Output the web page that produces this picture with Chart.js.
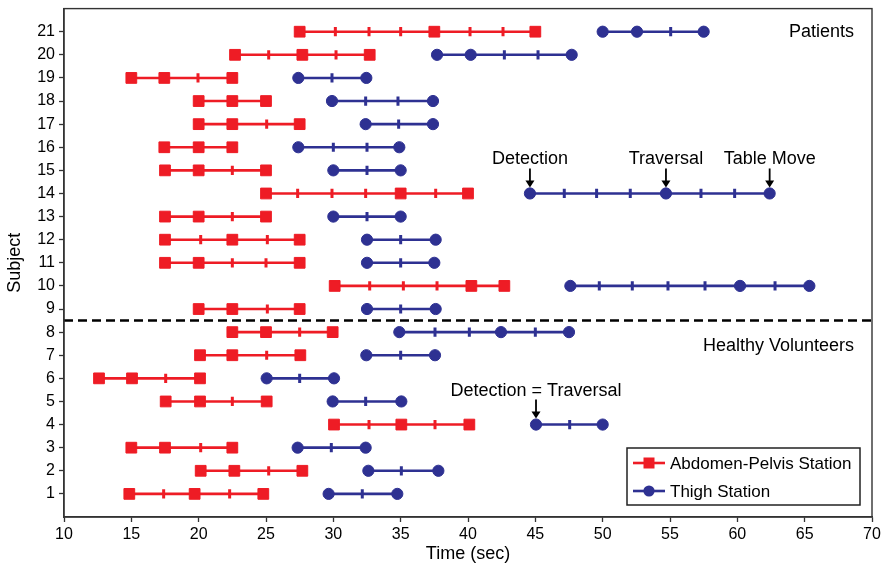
<!DOCTYPE html>
<html>
<head>
<meta charset="utf-8">
<title>Station timing per subject</title>
<script src="https://cdn.jsdelivr.net/npm/chart.js@4/dist/chart.umd.min.js"></script>
<style>
  html, body { margin: 0; padding: 0; background: #fff; }
  #wrap { width: 883px; height: 565px; }
</style>
</head>
<body>
<div id="wrap"><canvas id="chart" width="883" height="565"></canvas></div>
<script>
// --- Data (times in seconds), index 0 = subject 1 ---
const SUBJECTS = [1, 2, 3, 4, 5, 6, 7, 8, 9, 10, 11, 12, 13, 14, 15, 16, 17, 18, 19, 20, 21];
const DIVIDER_Y = 8.5; // patients above, healthy volunteers below
const X_MIN = 10, X_MAX = 70, X_STEP = 5;

// Abdomen-pelvis station: key frames (squares) and the frames between them (ticks)
const ABDOMEN_KEY = [
    [14.85, 19.7, 24.8], [20.15, 22.65, 27.7], [15.0, 17.5, 22.5], [30.05, 35.05, 40.1],
    [17.55, 20.1, 25.05], [12.6, 15.05, 20.1], [20.1, 22.5, 27.55], [22.5, 25.0, 29.95],
    [20.0, 22.5, 27.5], [30.1, 40.25, 42.7], [17.5, 20.0, 27.5], [17.5, 22.5, 27.5],
    [17.5, 20.0, 25.0], [25.0, 35.0, 40.0], [17.5, 20.0, 25.0], [17.45, 20.0, 22.5],
    [20.0, 22.5, 27.5], [20.0, 22.5, 25.0], [15.0, 17.45, 22.5], [22.7, 27.7, 32.7],
    [27.5, 37.5, 45.0]
];
const ABDOMEN_FRAMES = [
    [17.4, 22.3], [25.2], [20.15], [32.65, 37.55],
    [22.5], [17.55], [25.05], [27.5],
    [25.1], [32.7, 35.2, 37.7], [22.5, 25.0], [20.15, 25.1],
    [22.5], [27.35, 29.9, 32.4, 37.6], [22.5], [],
    [25.05], [], [19.95], [25.2, 30.2],
    [30.15, 32.65, 35.0, 40.15, 42.6]
];

// Thigh station: key frames (circles) and the frames between them (ticks)
const THIGH_KEY = [
    [29.65, 34.75], [32.6, 37.8], [27.35, 32.4], [45.05, 50.0],
    [29.95, 35.05], [25.05, 30.05], [32.45, 37.55], [34.9, 42.45, 47.5],
    [32.5, 37.6], [47.6, 60.2, 65.35], [32.5, 37.5], [32.5, 37.6],
    [30.0, 35.0], [44.6, 54.7, 62.4], [30.0, 35.0], [27.4, 34.9],
    [32.4, 37.4], [29.9, 37.4], [27.4, 32.45], [37.7, 40.2, 47.7],
    [50.0, 52.55, 57.5]
];
const THIGH_FRAMES = [
    [32.15], [35.05], [29.85], [47.55],
    [32.4], [27.5], [35.0], [37.55, 40.1, 45.0],
    [35.0], [49.75, 52.2, 54.85, 57.6, 62.8], [35.0], [35.0],
    [32.5], [47.15, 49.55, 52.05, 57.3, 59.8], [32.5], [30.0, 32.5],
    [34.85], [32.4, 34.8], [29.9], [42.7, 45.2],
    [55.05]
];

const SERIES = [
    { label: 'Abdomen-Pelvis Station', color: '#ee1c25', marker: 'rect', radius: 7.6, key: ABDOMEN_KEY, frames: ABDOMEN_FRAMES },
    { label: 'Thigh Station', color: '#2e3192', marker: 'circle', radius: 5.6, key: THIGH_KEY, frames: THIGH_FRAMES }
];

// arrows point at thigh key frames
const NOTES = [
    { text: 'Detection', subject: 14, time: THIGH_KEY[13][0] },
    { text: 'Traversal', subject: 14, time: THIGH_KEY[13][1] },
    { text: 'Table Move', subject: 14, time: THIGH_KEY[13][2] },
    { text: 'Detection = Traversal', subject: 4, time: THIGH_KEY[3][0] }
];
const GROUP_LABELS = [
    { text: 'Patients', y: 21 },
    { text: 'Healthy Volunteers', y: 7.4 }
];

const FONT = '"Liberation Sans", Arial, Helvetica, sans-serif';

// --- build one dataset per subject and station ---
const datasets = [];
SERIES.forEach(s => {
    SUBJECTS.forEach((subj, i) => {
        const pts = s.key[i].map(t => ({ x: t, y: subj, key: true }))
            .concat(s.frames[i].map(t => ({ x: t, y: subj, key: false })))
            .sort((a, b) => a.x - b.x);
        datasets.push({
            label: s.label,
            data: pts,
            showLine: true,
            borderColor: s.color,
            backgroundColor: s.color,
            borderWidth: 2.6,
            pointStyle: c => c.raw && c.raw.key ? s.marker : 'line',
            pointRotation: c => c.raw && c.raw.key ? 0 : 90,
            pointRadius: c => c.raw && c.raw.key ? s.radius : 4.6,
            pointBorderWidth: c => c.raw && c.raw.key ? 1 : 3,
            pointBorderColor: s.color,
            pointBackgroundColor: s.color
        });
    });
});
datasets.push({
    label: 'divider',
    data: [{ x: X_MIN, y: DIVIDER_Y }, { x: X_MAX, y: DIVIDER_Y }],
    showLine: true,
    borderColor: '#000',
    borderWidth: 2.6,
    borderDash: [9, 5],
    pointRadius: 0
});

// --- frame, annotations and legend drawn on top ---
const extras = {
    id: 'extras',
    afterDatasetsDraw(chart) {
        const { ctx, chartArea: a, scales: { x, y } } = chart;
        ctx.save();
        ctx.strokeStyle = '#333';
        ctx.lineWidth = 1.4;
        ctx.strokeRect(a.left, a.top, a.right - a.left, a.bottom - a.top);

        ctx.fillStyle = '#000';
        ctx.font = '18px ' + FONT;
        ctx.textBaseline = 'middle';
        ctx.textAlign = 'right';
        GROUP_LABELS.forEach(g => ctx.fillText(g.text, a.right - 18, y.getPixelForValue(g.y)));

        ctx.textAlign = 'center';
        NOTES.forEach(n => {
            const px = x.getPixelForValue(n.time);
            const py = y.getPixelForValue(n.subject);
            ctx.fillText(n.text, px, py - 34);
            ctx.strokeStyle = '#000';
            ctx.lineWidth = 1.8;
            ctx.beginPath();
            ctx.moveTo(px, py - 25);
            ctx.lineTo(px, py - 12);
            ctx.stroke();
            ctx.beginPath();
            ctx.moveTo(px - 4.5, py - 13);
            ctx.lineTo(px + 4.5, py - 13);
            ctx.lineTo(px, py - 6);
            ctx.closePath();
            ctx.fill();
        });

        // legend box
        const lx = 627, ly = 448, lw = 233, lh = 57;
        ctx.fillStyle = '#fff';
        ctx.fillRect(lx, ly, lw, lh);
        ctx.strokeStyle = '#222';
        ctx.lineWidth = 1.5;
        ctx.strokeRect(lx, ly, lw, lh);
        ctx.font = '17px ' + FONT;
        ctx.textAlign = 'left';
        SERIES.forEach((s, i) => {
            const cy = ly + 15 + i * 28;
            ctx.strokeStyle = s.color;
            ctx.fillStyle = s.color;
            ctx.lineWidth = 2.6;
            ctx.beginPath();
            ctx.moveTo(lx + 6, cy);
            ctx.lineTo(lx + 38, cy);
            ctx.stroke();
            if (s.marker === 'rect') {
                ctx.fillRect(lx + 22 - 5.5, cy - 5.5, 11, 11);
            } else {
                ctx.beginPath();
                ctx.arc(lx + 22, cy, 5.6, 0, Math.PI * 2);
                ctx.fill();
            }
            ctx.fillStyle = '#000';
            ctx.fillText(s.label, lx + 43, cy + 1);
        });
        ctx.restore();
    }
};

new Chart(document.getElementById('chart'), {
    type: 'scatter',
    data: { datasets },
    options: {
        responsive: false,
        animation: false,
        devicePixelRatio: 1,
        layout: { padding: { top: 7, right: 11, left: 0, bottom: 0 } },
        plugins: { legend: { display: false }, tooltip: { enabled: false } },
        scales: {
            x: {
                type: 'linear',
                min: X_MIN,
                max: X_MAX,
                afterFit: s => { s.height = 48; s.paddingLeft = 0; s.paddingRight = 0; },
                ticks: { stepSize: X_STEP, color: '#000', font: { family: FONT, size: 16 }, padding: 3 },
                grid: { drawOnChartArea: false, tickLength: 5, color: '#333', tickWidth: 1.3 },
                border: { color: '#333', width: 1.4 },
                title: { display: true, text: 'Time (sec)', color: '#000', font: { family: FONT, size: 18 }, padding: { top: 0, bottom: 0 } }
            },
            y: {
                type: 'linear',
                min: 0,
                max: 22,
                afterFit: s => { s.width = 64; s.paddingTop = 0; s.paddingBottom = 0; },
                afterBuildTicks: s => {
                    s.ticks = SUBJECTS.map(v => ({ value: v }));
                },
                ticks: { color: '#000', font: { family: FONT, size: 16 }, padding: 4 },
                grid: { drawOnChartArea: false, tickLength: 5, color: '#333', tickWidth: 1.3 },
                border: { color: '#333', width: 1.4 },
                title: { display: true, text: 'Subject', color: '#000', font: { family: FONT, size: 18 }, padding: { top: 4, bottom: 0 } }
            }
        }
    },
    plugins: [extras]
});
</script>
</body>
</html>
